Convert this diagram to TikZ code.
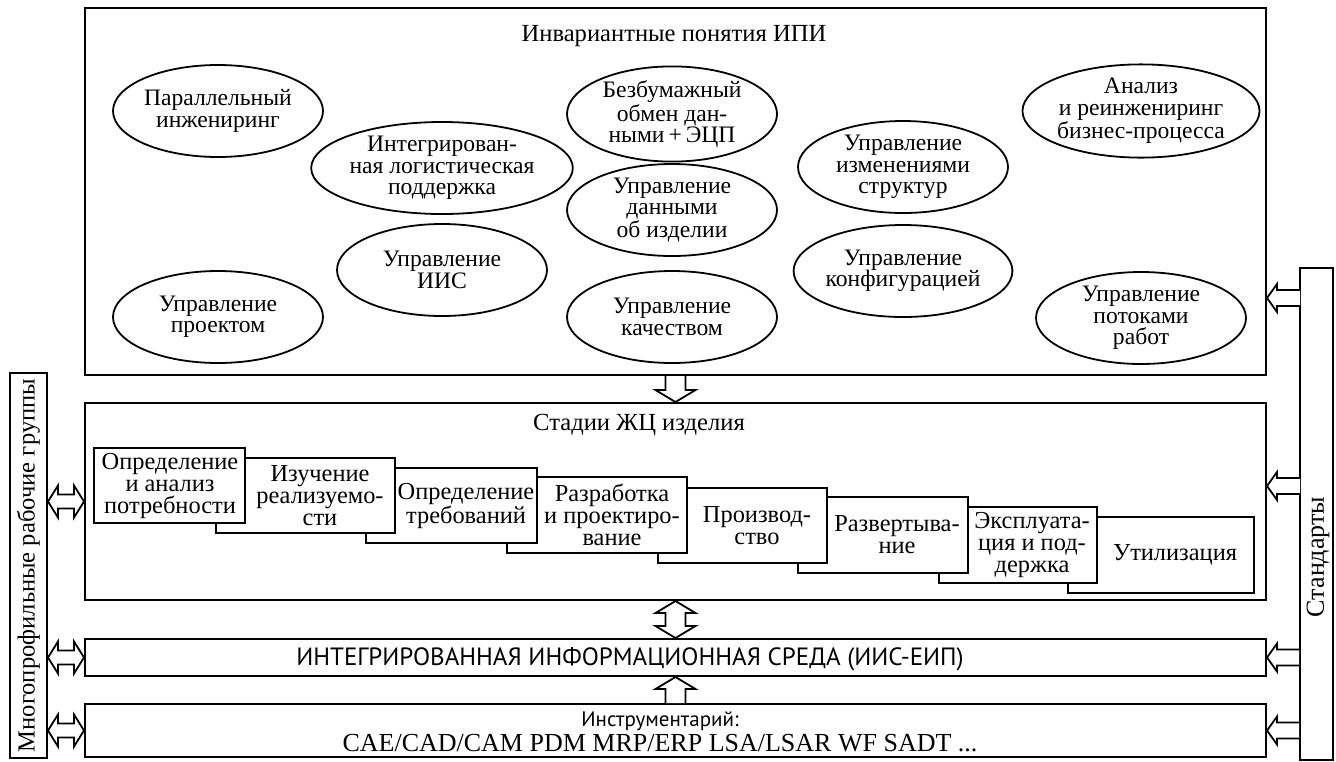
\documentclass[tikz,border=0pt]{standalone}
\usepackage{fontspec}
\setmainfont{Liberation Serif}
\newfontfamily\sansfnt{PT Sans}
\usetikzlibrary{arrows.meta, positioning, shapes.geometric, calc}
\newcommand{\lblsize}{\fontsize{11.8pt}{10.7pt}\selectfont}
\newcommand{\stagesize}{\fontsize{12.2pt}{11pt}\selectfont}
\tikzset{
  panel/.style={
    rectangle,
    draw=black,
    line width=1pt,
    inner sep=0pt
  },
  concept/.style={
    ellipse,
    draw=black,
    line width=0.9pt,
    inner sep=0pt,
    minimum width=105pt,
    minimum height=46pt,
    align=center,
    font=\lblsize
  },
  stagebox/.style={draw=black, line width=1pt, fill=white},
  stagetext/.style={align=center, inner sep=0pt, font=\stagesize},
  title/.style={inner sep=0pt, font=\fontsize{12.3pt}{13pt}\selectfont},
  % hollow block arrows
  downarrow/.style={draw=black, line width=0.9pt, fill=white, to path={
    let \p1=(\tikztostart), \p2=(\tikztotarget) in
    (\x1-5pt,\y1) -- (\x1-5pt,\y2+6pt) -- (\x1-10pt,\y2+6pt) -- (\x1,\y2)
    -- (\x1+10pt,\y2+6pt) -- (\x1+5pt,\y2+6pt) -- (\x1+5pt,\y1)}},
  uparrow/.style={draw=black, line width=0.9pt, fill=white, to path={
    let \p1=(\tikztostart), \p2=(\tikztotarget) in
    (\x1-5pt,\y1) -- (\x1-5pt,\y2-6pt) -- (\x1-10pt,\y2-6pt) -- (\x1,\y2)
    -- (\x1+10pt,\y2-6pt) -- (\x1+5pt,\y2-6pt) -- (\x1+5pt,\y1)}},
  vboth/.style={draw=black, line width=0.9pt, fill=white, to path={
    let \p1=(\tikztostart), \p2=(\tikztotarget) in
    (\x1,\y1) -- (\x1-10pt,\y1-6pt) -- (\x1-5pt,\y1-6pt) -- (\x1-5pt,\y2+6pt)
    -- (\x1-10pt,\y2+6pt) -- (\x1,\y2) -- (\x1+10pt,\y2+6pt) -- (\x1+5pt,\y2+6pt)
    -- (\x1+5pt,\y1-6pt) -- (\x1+10pt,\y1-6pt) -- cycle}},
  hboth/.style={draw=black, line width=0.9pt, fill=white, to path={
    let \p1=(\tikztostart), \p2=(\tikztotarget) in
    (\x1,\y1) -- (\x1+5pt,\y1+8pt) -- (\x1+5pt,\y1+3.5pt) -- (\x2-5pt,\y1+3.5pt)
    -- (\x2-5pt,\y1+8pt) -- (\x2,\y1) -- (\x2-5pt,\y1-8pt) -- (\x2-5pt,\y1-3.5pt)
    -- (\x1+5pt,\y1-3.5pt) -- (\x1+5pt,\y1-8pt) -- cycle}},
  leftarrow/.style={draw=black, line width=0.9pt, fill=white, to path={
    let \p1=(\tikztostart), \p2=(\tikztotarget) in
    (\x1,\y1+4pt) -- (\x2+5pt,\y1+4pt) -- (\x2+5pt,\y1+7pt) -- (\x2,\y1)
    -- (\x2+5pt,\y1-7pt) -- (\x2+5pt,\y1-4pt) -- (\x1,\y1-4pt)}}
}
\begin{document}
\begin{tikzpicture}[x=0.5pt, y=-0.5pt]
  \useasboundingbox (0,0) rectangle (1336,761);

  % main panels
  \node[panel, minimum width=590.5pt, minimum height=183.5pt] (ipi) at (675.5,191.5) {};
  \node[panel, minimum width=590.5pt, minimum height=98.5pt] (stages) at (675.5,501.5) {};
  \node[panel, minimum width=590.5pt, minimum height=18.5pt] (iis) at (675.5,657.5) {};
  \node[panel, minimum width=590.5pt, minimum height=26.5pt] (tools) at (675.5,730.5) {};
  \node[panel, minimum width=18.5pt, minimum height=192.5pt] (groups) at (28.5,565.5) {};
  \node[panel, minimum width=16.5pt, minimum height=246pt] (standards) at (1316.5,514) {};

  \node[title] (ipititle) at (674,36) {Инвариантные понятия ИПИ};
  \node[title] (stagetitle) at (639,425) {Стадии ЖЦ изделия};
  \node[inner sep=0pt, font=\sansfnt\fontsize{12.5pt}{13pt}\selectfont] (iistext) at (630,659)
    {ИНТЕГРИРОВАННАЯ ИНФОРМАЦИОННАЯ СРЕДА (ИИС-ЕИП)};
  \node[inner sep=0pt, font=\sansfnt\fontsize{10.5pt}{12pt}\selectfont] (toolhead) at (660,721) {Инструментарий:};
  \node[inner sep=0pt, font=\fontsize{13pt}{13pt}\selectfont, below=1.5pt of toolhead] (toollist)
    {CAE/CAD/CAM PDM MRP/ERP LSA/LSAR WF SADT ...};
  \node[rotate=90, inner sep=0pt, font=\fontsize{12.3pt}{13pt}\selectfont] (groupstext) at (groups.center)
    {Многопрофильные рабочие группы};
  \node[rotate=90, inner sep=0pt, font=\fontsize{13pt}{13pt}\selectfont] (stdtext) at (1318,557) {Стандарты};

  % invariant concepts
  \node[concept] (parallel) at (218,111) {Параллельный\\инжениринг};
  \node[concept] (ils) at (442,168) {Интегрирован-\\ная логистическая\\поддержка};
  \node[concept] (iisman) at (442,270) {Управление\\ИИС};
  \node[concept] (project) at (218,317) {Управление\\проектом};
  \node[concept] (paperless) at (672,114) {Безбумажный\\обмен дан-\\ными\,+\,ЭЦП};
  \node[concept] (pdm) at (672,210) {Управление\\данными\\об изделии};
  \node[concept] (quality) at (672,317) {Управление\\качеством};
  \node[concept] (changes) at (903,167) {Управление\\изменениями\\структур};
  \node[concept] (config) at (903,271) {Управление\\конфигурацией};
  \node[concept] (bpr) at (1141,111) {Анализ\\и реинжениринг\\бизнес-процесса};
  \node[concept] (workflow) at (1141,318) {Управление\\потоками\\работ};

  % life cycle stages, back to front
  \draw[stagebox] (1068,517) rectangle (1254,593);
  \draw[stagebox] (939,507) rectangle (1097,583);
  \draw[stagebox] (798,497) rectangle (968,573);
  \draw[stagebox] (658,488) rectangle (827,563);
  \draw[stagebox] (507,477) rectangle (687,553);
  \draw[stagebox] (366,468) rectangle (537,543);
  \draw[stagebox] (216,458) rectangle (395,533);
  \draw[stagebox] (94,448) rectangle (245,523);

  \node[stagetext] (st1) at (170,486) {Определение\\и анализ\\потребности};
  \node[stagetext] (st2) at (320,496) {Изучение\\реализуемо-\\сти};
  \node[stagetext] (st3) at (466,506) {Определение\\требований};
  \node[stagetext] (st4) at (612,515) {Разработка\\и проектиро-\\вание};
  \node[stagetext] (st5) at (757,526) {Производ-\\ство};
  \node[stagetext] (st6) at (897,535) {Развертыва-\\ние};
  \node[stagetext] (st7) at (1032,545) {Эксплуата-\\ция и под-\\держка};
  \node[stagetext] (st8) at (1175,555) {Утилизация};

  % links between layers
  \draw[downarrow] (ipi.south) to (stages.north);
  \draw[vboth] (stages.south) to (iis.north);
  \draw[uparrow] (tools.north) to (iis.south);

  \draw[hboth] (groups.east |- stages.west) to (stages.west);
  \draw[hboth] (groups.east |- iis.west) to (iis.west);
  \draw[hboth] (groups.east |- tools.west) to (tools.west);

  \coordinate (stdtop) at (1300,298);
  \coordinate (stdmid) at (1300,486);
  \draw[leftarrow] (stdtop) to (stdtop -| ipi.east);
  \draw[leftarrow] (stdmid) to (stdmid -| stages.east);
  \draw[leftarrow] (standards.west |- iis.east) to (iis.east);
  \draw[leftarrow] (standards.west |- tools.east) to (tools.east);
\end{tikzpicture}
\end{document}
